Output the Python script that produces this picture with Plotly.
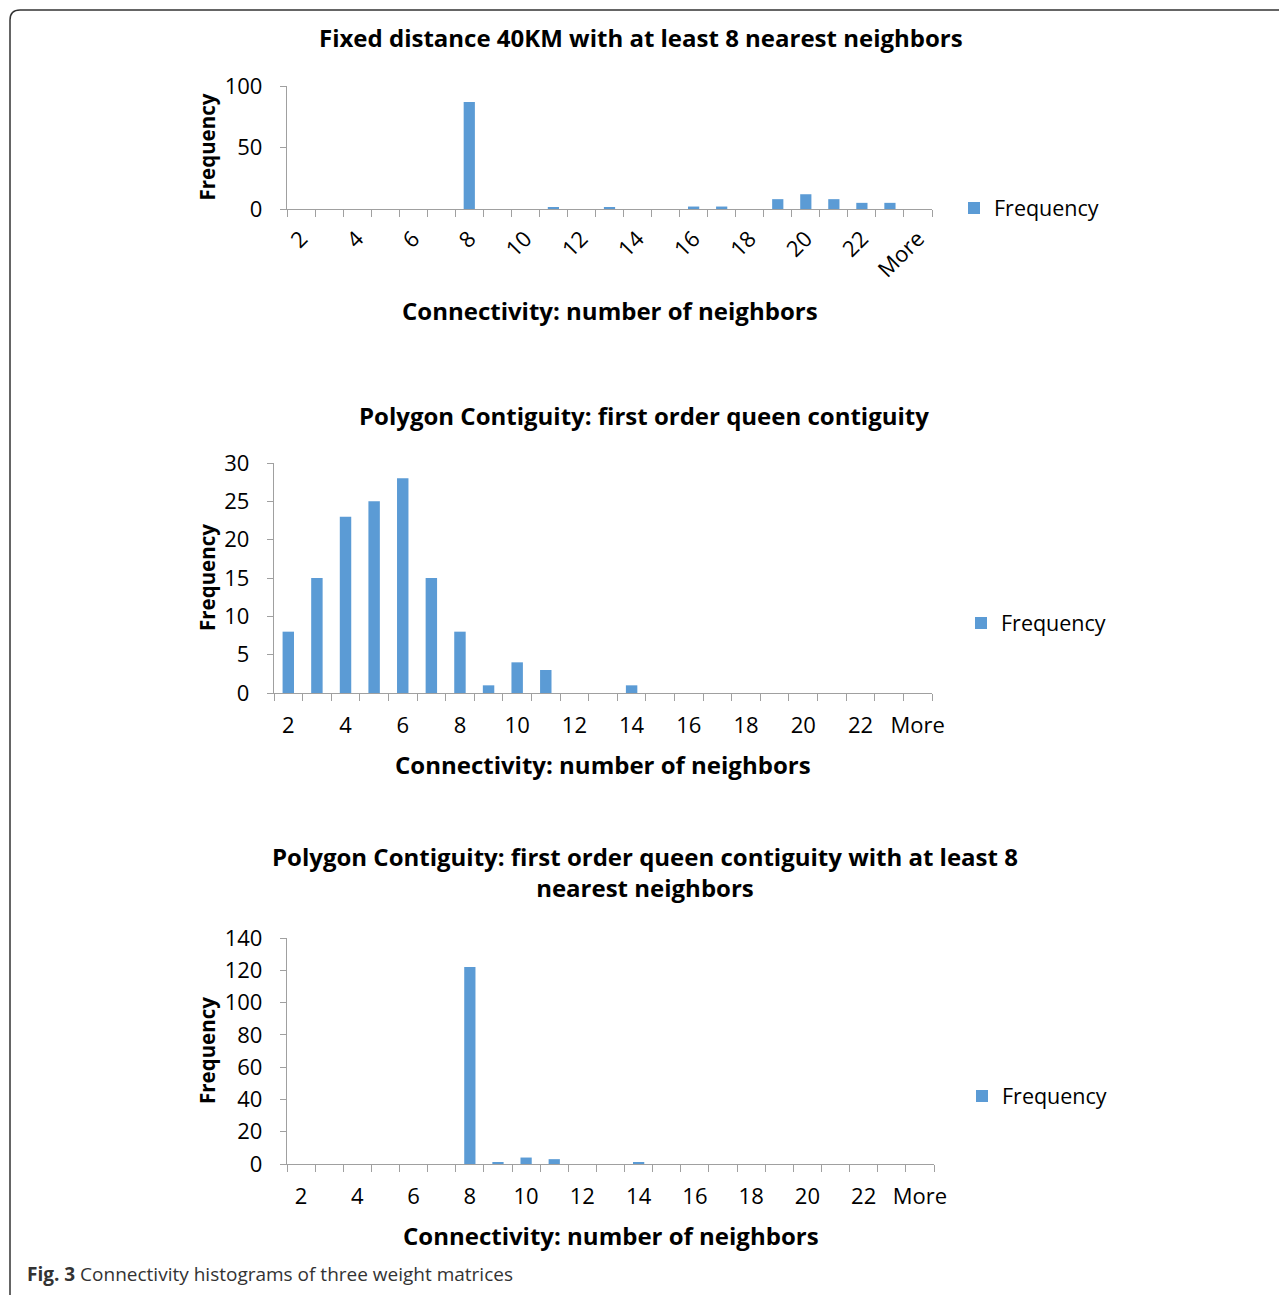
import plotly.graph_objects as go

W, H = 1287, 1295
OFF = 8  # page body margin

categories = [str(i) for i in range(2, 24)] + ["More"]

freq_fixed40 = [0, 0, 0, 0, 0, 0, 87, 0, 0, 1, 0, 1, 0, 0, 2, 2, 0, 8, 12, 8, 5, 5, 0]
freq_queen = [8, 15, 23, 25, 28, 15, 8, 1, 4, 3, 0, 0, 1, 0, 0, 0, 0, 0, 0, 0, 0, 0, 0]
freq_queen8 = [0, 0, 0, 0, 0, 0, 122, 1, 4, 3, 0, 0, 1, 0, 0, 0, 0, 0, 0, 0, 0, 0, 0]

titles = [
    "Fixed distance 40KM with at least 8 nearest neighbors",
    "Polygon Contiguity: first order queen contiguity",
    "Polygon Contiguity: first order queen contiguity with at least 8<br>nearest neighbors",
]
x_title = "Connectivity: number of neighbors"
y_title = "Frequency"
series_name = "Frequency"
caption_bold = "Fig. 3"
caption_text = " Connectivity histograms of three weight matrices"

tick_text = [c if i % 2 == 0 else "" for i, c in enumerate(categories)]

FONT = "Open Sans"
BAR = "#5B9BD5"
AX = "#A0A0A0"


def px(x):
    return (x - OFF) / W


def py(y):
    return (H - (y - OFF)) / H


# plot area boxes in pixels: (x0, x1, ytop, ybottom)
boxes = [(287, 932, 86, 209), (274, 932, 463, 693), (287, 934, 938, 1164)]
yranges = [(0, 100, 50), (0, 30, 5), (0, 140, 20)]
datasets = [freq_fixed40, freq_queen, freq_queen8]
legend_pos = [(954, 208), (961, 623), (962, 1096)]
title_pos = [(641, 38), (644, 415), (645, 872)]
xtitle_y = [310, 764, 1235]

fig = go.Figure()
layout = dict(
    width=W, height=H, margin=dict(l=0, r=0, t=0, b=0, pad=0, autoexpand=False),
    paper_bgcolor="white", plot_bgcolor="white",
    bargap=0.6, font=dict(family=FONT, size=20, color="#000000"),
    annotations=[], shapes=[],
)

for k in range(3):
    sfx = "" if k == 0 else str(k + 1)
    x0, x1, yt, yb = boxes[k]
    lg = "legend" if k == 0 else f"legend{k + 1}"
    fig.add_trace(go.Bar(
        x=categories, y=datasets[k], name=series_name,
        marker=dict(color=BAR, line=dict(width=0)),
        xaxis="x" + sfx, yaxis="y" + sfx, legend=lg, showlegend=True,
    ))
    xa = dict(
        domain=[px(x0), px(x1)], anchor="y" + sfx, type="category",
        tickmode="array", tickvals=categories, ticktext=tick_text,
        tickson="boundaries", ticks="outside", ticklen=7, tickcolor=AX, tickwidth=1.3,
        showline=True, linecolor=AX, linewidth=1.3, showgrid=False, zeroline=False,
        tickfont=dict(size=22, family=FONT), fixedrange=True, automargin=False,
    )
    if k == 0:
        xa["tickangle"] = -45
        xa["ticklabelstandoff"] = 7
    else:
        xa["tickangle"] = 0
        xa["ticklabelstandoff"] = 12
    ya = dict(
        domain=[py(yb), py(yt)], anchor="x" + sfx,
        range=[yranges[k][0], yranges[k][1]], dtick=yranges[k][2], tick0=0,
        ticks="outside", ticklen=6, tickcolor=AX, tickwidth=1.3,
        showline=True, linecolor=AX, linewidth=1.3, showgrid=False, zeroline=False,
        tickfont=dict(size=22, family=FONT), ticklabelstandoff=13, fixedrange=True,
        automargin=False,
    )
    layout["xaxis" + sfx] = xa
    layout["yaxis" + sfx] = ya
    lx, ly = legend_pos[k]
    layout[lg] = dict(
        x=px(lx), y=py(ly), xanchor="left", yanchor="middle",
        font=dict(size=21.5, family=FONT), bgcolor="rgba(0,0,0,0)",
        itemwidth=30, tracegroupgap=0,
    )
    tx, ty = title_pos[k]
    layout["annotations"].append(dict(
        text="<b>" + titles[k] + "</b>", x=px(tx), y=py(ty), xref="paper", yref="paper",
        showarrow=False, xanchor="center", yanchor="middle",
        font=dict(size=24, family=FONT), align="center",
    ))
    layout["annotations"].append(dict(
        text="<b>" + x_title + "</b>", x=px((x0 + x1) / 2), y=py(xtitle_y[k]),
        xref="paper", yref="paper", showarrow=False, xanchor="center", yanchor="middle",
        font=dict(size=24, family=FONT),
    ))
    layout["annotations"].append(dict(
        text="<b>" + y_title + "</b>", x=px(207), y=py((yt + yb) / 2),
        xref="paper", yref="paper", showarrow=False, xanchor="center", yanchor="middle",
        textangle=-90, font=dict(size=20.5, family=FONT),
    ))

layout["annotations"].append(dict(
    text="<b>" + caption_bold + "</b>" + caption_text, x=px(25), y=py(1274),
    xref="paper", yref="paper", showarrow=False, xanchor="left", yanchor="middle",
    font=dict(size=19, family=FONT, color="#333333"),
))

# rounded frame (cropped at right/bottom)
r = 10
layout["shapes"].append(dict(
    type="path", xref="paper", yref="paper",
    path=(f"M {px(10)},{py(1400)} L {px(10)},{py(10 + r)} "
          f"Q {px(10)},{py(10)} {px(10 + r)},{py(10)} L {px(1400)},{py(10)}"),
    line=dict(color="#333333", width=1.5),
))

fig.update_layout(**layout)
fig.write_html("out.html")
